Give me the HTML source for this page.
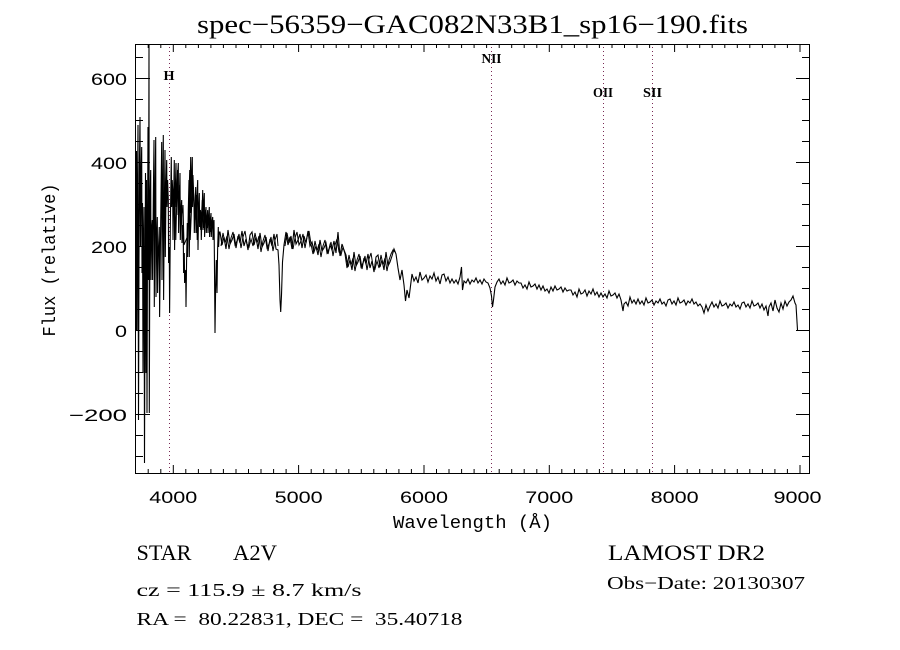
<!DOCTYPE html>
<html>
<head>
<meta charset="utf-8">
<style>
html,body{margin:0;padding:0;background:#fff;}
svg{display:block;}
.tk{font-family:"Liberation Sans",sans-serif;font-size:17px;fill:#000;}
.sf{font-family:"Liberation Serif",serif;fill:#000;white-space:pre;}
.mono{font-family:"Liberation Mono",monospace;fill:#000;white-space:pre;}
.ln{font-family:"Liberation Serif",serif;font-weight:bold;font-size:14px;fill:#000;}
</style>
</head>
<body>
<svg width="900" height="650" viewBox="0 0 900 650" xmlns="http://www.w3.org/2000/svg" xml:space="preserve">
<rect x="0" y="0" width="900" height="650" fill="#fff"/>

<!-- Title -->
<text class="sf" x="197" y="33" font-size="26" textLength="551" lengthAdjust="spacingAndGlyphs">spec−56359−GAC082N33B1_sp16−190.fits</text>

<!-- dotted line markers -->
<g stroke="#7a2a55" stroke-width="1" stroke-dasharray="1,3" fill="none">
<line x1="169.5" y1="47" x2="169.5" y2="473"/>
<line x1="491.5" y1="47" x2="491.5" y2="473"/>
<line x1="603.5" y1="47" x2="603.5" y2="473"/>
<line x1="652.5" y1="47" x2="652.5" y2="473"/>
</g>
<text class="ln" x="169" y="80" text-anchor="middle" textLength="11" lengthAdjust="spacingAndGlyphs">H</text>
<text class="ln" x="491.5" y="63" text-anchor="middle" textLength="20" lengthAdjust="spacingAndGlyphs">NII</text>
<text class="ln" x="603" y="97" text-anchor="middle" textLength="20" lengthAdjust="spacingAndGlyphs">OII</text>
<text class="ln" x="652.5" y="97" text-anchor="middle" textLength="19" lengthAdjust="spacingAndGlyphs">SII</text>

<!-- spectrum -->
<polyline fill="none" stroke="#000" stroke-width="1.1" stroke-linejoin="miter" points="136,330 136.5,151 137,330 137.5,200 138,125 138.5,420 139,260 139.5,160 140,117 140.5,247 141,180 141.7,147 142,273 142.5,203 143,373 143.5,240 144,207 144.5,463 145,300 145.5,173 146,373 146.5,180 147,413 147.5,240 148,127 148.5,280 149,45 149.3,413 150,200 150.7,170 151,280 151.6,230 152.3,220 152.6,280 153.3,200 154,140 154.3,307 155,200 155.7,137 156,297 156.6,240 157.3,217 157.6,293 158.4,250 159.3,227 159.6,317 160.6,230 161.7,142 162,280 162.6,200 163.3,135 163.6,300 164.3,210 165,150 165.3,257 166,190 166.7,160 167,207 167.6,180 168.3,200 168.6,263 169.3,247 169.6,313 170.4,220 171.3,157 171.6,207 172.2,180 172.7,190 173,240 173.6,200 174.3,160 174.6,250 175.3,190 176,163 176.3,207 177.2,185 178.3,163 178.6,233 179.3,200 180,173 180.3,240 181,210 181.7,200 182,243 182.6,225 183.3,240 183.6,273 184.3,253 184.6,283 185.2,270 185.7,273 186,307 186.6,260 187.3,223 187.6,257 188.3,210 189,180 189.3,257 190,200 190.7,157 191,213 191.6,180 192.3,157 192.6,207 193.3,190 194,200 194.3,233 195,210 195.7,187 196,233 196.8,200 197.7,180 198,250 198.6,210 199.3,193 199.6,227 200.3,210 201,213 201.3,240 202,215 202.7,190 203,230 203.6,205 204.3,193 204.6,237 205.3,215 206,207 206.3,233 207,218 207.7,210 208,233 208.6,220 209.3,207 209.6,237 210.3,220 211,213 211.3,237 212,222 212.7,217 213,240 213.6,225 214,220 214.4,257 215,333 215.6,290 216.3,260 217,293 217.6,250 218.3,227 218.6,247 219.3,232 220,232 222,245 224,237 226,249 228,230 230,244 232,240 234,234 236,248 238,236 240,243 242,231 244,246 246,239 248,250 250,235 252,232 254,245 256,237 258,249 260,233 262,247 264,243 266,237 268,251 270,239 272,246 274,234 276,249 278,250 279,265 280,300 280.7,312 281.5,295 282.5,262 284,245 286,232 288,245 290,237 292,249 294,230 296,244 298,240 300,234 302,248 304,236 306,243 308,231 310,246 312,242 314,252 316,246 318,255 320,240 322,251 324,248 326,243 328,254 330,245 332,250 334,241 336,253 338,232 340,256 342,244 344,250 346,255 348,267 350,260 352,270 354,252 356,266 358,262 360,256 362,269 364,258 366,264 368,254 370,268 372,261 374,272 376,257 378,255 380,267 382,260 384,270 386,252 388,266 390,262 392,256 394,249 396,254 398,268 400,280 402,270 404,285 405.5,301 407,290 409,298 411,282 412,274 414,281 416,277 418,283 420,272 422,280 424,278 426,275 428,282 430,276 432,279 434,273 436,281 438,277 440,284 442,275 444,274 446,281 448,277 450,283 452,279 454,283 456,280 458,284 460,277 461.5,267 462.5,290 464,281 466,283 468,279 470,284 472,280 474,282 476,278 478,283 480,280 482,284 484,279 486,282 488,283 490,288 491.5,296 492.5,307 493.5,300 495,287 497,282 499,279 501,284 503,281 505,285 507,278 509,283 511,282 513,280 515,285 517,281 519,283 521,283 523,288 525,285 527,289 529,282 531,287 533,286 535,284 537,289 539,285 541,290 543,286 545,291 547,289 549,293 551,287 553,291 555,286 557,290 559,289 561,287 563,292 565,288 567,291 569,290 571,290 573,295 575,292 577,297 579,289 581,294 583,293 585,290 587,296 589,291 591,294 593,289 595,295 597,292 599,297 601,293 603,297 605,294 607,298 609,291 611,296 613,295 615,293 617,298 619,294 621,300 623,311 624,304 626,302 628,306 630,297 632,303 634,300 636,304 638,299 640,304 642,301 644,305 646,298 648,303 650,302 652,300 654,305 656,301 658,303 660,299 662,304 664,302 666,306 668,300 670,299 672,304 674,301 676,305 678,298 680,303 682,302 684,300 686,305 688,301 690,303 692,299 694,304 696,302 698,306 700,304 702,307 704,313 706,305 708,311 710,306 712,302 714,307 716,304 718,308 720,301 722,306 724,305 726,303 728,308 730,304 732,306 734,302 736,307 738,305 740,309 742,303 744,302 746,307 748,304 750,308 752,301 754,306 756,305 758,303 760,308 762,304 764,310 766,306 768,316 769,307 771,303 773,311 775,300 777,308 779,312 781,303 783,309 785,301 787,306 789,302 791,300 793,296 795,303 796,305 797.5,330"/>

<!-- extra density band in the blue region -->
<polyline fill="none" stroke="#000" stroke-width="1" points="221,246 223,233 225,243 227,236 229,249 231,238 233,232 235,245 237,241 239,234 241,248 243,237 245,231 247,244 249,247 251,239 253,246 255,233 257,243 259,236 261,252 263,241 265,235 267,248 269,244 271,237 273,251 275,240 277,234 278,246"/>
<polyline fill="none" stroke="#000" stroke-width="1" points="285,246 287,233 289,243 291,236 293,249 295,238 297,232 299,245 301,241 303,234 305,248 307,237 309,231 311,244 313,254 315,241 317,251 319,244 321,257 323,246 325,240 327,253 329,249 331,242 333,256 335,245 337,239 339,252 341,255 343,247 345,254 347,268 349,255 351,265 353,258 355,271 357,260 359,254 361,267 363,263 365,256 367,270 369,259 371,253 373,266 375,269 377,261 379,268 381,255 383,265 385,258 387,271 389,260 391,254 393,250 395,252"/>
<polyline fill="none" stroke="#000" stroke-width="1" points="175,200 175.8,240 177.5,170 178,215 179.7,185 180.8,225 183,205 184,245 188,235 189.7,170 190.2,240 193,175 194.7,220 196.4,195 197.2,240 199,205 200.7,230 202.3,200 203.9,228 205.6,210 207.2,228 208.9,215 210.6,232 212.2,222 213.8,238"/>

<!-- axes box -->
<rect x="135.5" y="44.5" width="674" height="429" fill="none" stroke="#000" stroke-width="1"/>

<!-- ticks -->
<g stroke="#000" stroke-width="1" fill="none">
<path d="M148.2 473V469M160.8 473V469M173.3 473V465M185.8 473V469M198.4 473V469M210.9 473V469M223.4 473V469M236 473V469M248.5 473V469M261 473V469M273.6 473V469M286.1 473V469M298.6 473V465M311.2 473V469M323.7 473V469M336.2 473V469M348.8 473V469M361.3 473V469M373.8 473V469M386.4 473V469M398.9 473V469M411.4 473V469M424 473V465M436.5 473V469M449 473V469M461.6 473V469M474.1 473V469M486.6 473V469M499.2 473V469M511.7 473V469M524.2 473V469M536.8 473V469M549.3 473V465M561.8 473V469M574.4 473V469M586.9 473V469M599.4 473V469M612 473V469M624.5 473V469M637 473V469M649.6 473V469M662.1 473V469M674.6 473V465M687.2 473V469M699.7 473V469M712.2 473V469M724.8 473V469M737.3 473V469M749.8 473V469M762.4 473V469M774.9 473V469M787.4 473V469M800 473V465"/>
<path d="M148.2 44V48M160.8 44V48M173.3 44V52M185.8 44V48M198.4 44V48M210.9 44V48M223.4 44V48M236 44V48M248.5 44V48M261 44V48M273.6 44V48M286.1 44V48M298.6 44V52M311.2 44V48M323.7 44V48M336.2 44V48M348.8 44V48M361.3 44V48M373.8 44V48M386.4 44V48M398.9 44V48M411.4 44V48M424 44V52M436.5 44V48M449 44V48M461.6 44V48M474.1 44V48M486.6 44V48M499.2 44V48M511.7 44V48M524.2 44V48M536.8 44V48M549.3 44V52M561.8 44V48M574.4 44V48M586.9 44V48M599.4 44V48M612 44V48M624.5 44V48M637 44V48M649.6 44V48M662.1 44V48M674.6 44V52M687.2 44V48M699.7 44V48M712.2 44V48M724.8 44V48M737.3 44V48M749.8 44V48M762.4 44V48M774.9 44V48M787.4 44V48M800 44V52"/>
<path d="M135 456.5H143M135 435.5H143M135 414.5H150M135 393.5H143M135 372.5H143M135 351.5H143M135 330.5H150M135 309.5H143M135 288.5H143M135 267.5H143M135 246.5H150M135 225.5H143M135 204.5H143M135 183.5H143M135 162.5H150M135 141.5H143M135 120.5H143M135 99.5H143M135 78.5H150M135 57.5H143"/>
<path d="M810 456.5H802M810 435.5H802M810 414.5H796M810 393.5H802M810 372.5H802M810 351.5H802M810 330.5H796M810 309.5H802M810 288.5H802M810 267.5H802M810 246.5H796M810 225.5H802M810 204.5H802M810 183.5H802M810 162.5H796M810 141.5H802M810 120.5H802M810 99.5H802M810 78.5H796M810 57.5H802"/>
</g>

<!-- y tick labels -->
<text class="tk" x="127" y="85" text-anchor="end" textLength="36" lengthAdjust="spacingAndGlyphs">600</text>
<text class="tk" x="127" y="169" text-anchor="end" textLength="36" lengthAdjust="spacingAndGlyphs">400</text>
<text class="tk" x="127" y="253" text-anchor="end" textLength="36" lengthAdjust="spacingAndGlyphs">200</text>
<text class="tk" x="127" y="337" text-anchor="end" textLength="12" lengthAdjust="spacingAndGlyphs">0</text>
<text class="tk" x="127" y="421" text-anchor="end" textLength="58" lengthAdjust="spacingAndGlyphs">−200</text>

<!-- x tick labels -->
<text class="tk" x="173.3" y="503" text-anchor="middle" textLength="48" lengthAdjust="spacingAndGlyphs">4000</text>
<text class="tk" x="298.6" y="503" text-anchor="middle" textLength="48" lengthAdjust="spacingAndGlyphs">5000</text>
<text class="tk" x="424" y="503" text-anchor="middle" textLength="48" lengthAdjust="spacingAndGlyphs">6000</text>
<text class="tk" x="549.3" y="503" text-anchor="middle" textLength="48" lengthAdjust="spacingAndGlyphs">7000</text>
<text class="tk" x="674.6" y="503" text-anchor="middle" textLength="48" lengthAdjust="spacingAndGlyphs">8000</text>
<text class="tk" x="797.5" y="503" text-anchor="middle" textLength="48" lengthAdjust="spacingAndGlyphs">9000</text>

<!-- axis titles -->
<text class="mono" x="472.5" y="528" font-size="18" text-anchor="middle" textLength="159" lengthAdjust="spacingAndGlyphs">Wavelength (Å)</text>
<text class="mono" font-size="18" text-anchor="middle" textLength="153" lengthAdjust="spacingAndGlyphs" transform="translate(55,260) rotate(-90)" x="0" y="0">Flux (relative)</text>

<!-- bottom info -->
<text class="sf" x="136.5" y="560" font-size="22" textLength="55" lengthAdjust="spacingAndGlyphs">STAR</text>
<text class="sf" x="233" y="560" font-size="22" textLength="44" lengthAdjust="spacingAndGlyphs">A2V</text>
<text class="sf" x="136.5" y="596" font-size="18" textLength="225" lengthAdjust="spacingAndGlyphs">cz = 115.9 ± 8.7 km/s</text>
<text class="sf" x="136.5" y="625" font-size="18" textLength="326" lengthAdjust="spacingAndGlyphs">RA =  80.22831, DEC =  35.40718</text>
<text class="sf" x="608" y="560" font-size="22" textLength="157" lengthAdjust="spacingAndGlyphs">LAMOST DR2</text>
<text class="sf" x="607" y="589" font-size="18" textLength="198" lengthAdjust="spacingAndGlyphs">Obs−Date: 20130307</text>
</svg>
</body>
</html>
